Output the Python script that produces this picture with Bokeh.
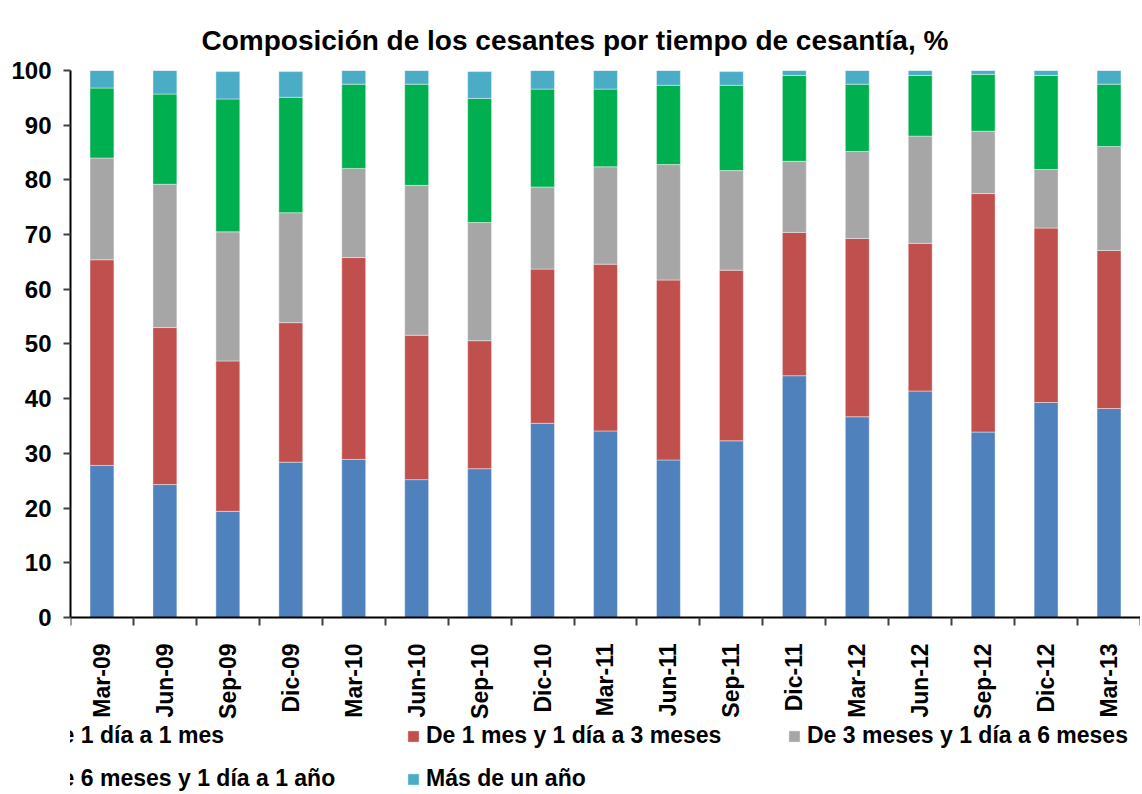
import math
from bokeh.plotting import figure
from bokeh.models import Legend, LegendItem, FixedTicker, Range1d, Title
from bokeh.embed import file_html
from bokeh.resources import INLINE

categories = ["Mar-09", "Jun-09", "Sep-09", "Dic-09", "Mar-10", "Jun-10", "Sep-10",
              "Dic-10", "Mar-11", "Jun-11", "Sep-11", "Dic-11", "Mar-12", "Jun-12",
              "Sep-12", "Dic-12", "Mar-13"]

s1 = [27.8, 24.3, 19.4, 28.4, 28.9, 25.2, 27.2, 35.5, 34.1, 28.8, 32.3, 44.2, 36.7, 41.4, 33.9, 39.3, 38.2]
s2 = [37.6, 28.7, 27.5, 25.5, 36.9, 26.4, 23.4, 28.2, 30.5, 32.9, 31.2, 26.2, 32.6, 27.0, 43.6, 31.9, 28.9]
s3 = [18.6, 26.2, 23.6, 20.1, 16.3, 27.4, 21.6, 15.0, 17.8, 21.1, 18.2, 13.0, 15.9, 19.6, 11.4, 10.7, 19.0]
s4 = [12.8, 16.5, 24.3, 21.1, 15.4, 18.5, 22.7, 17.9, 14.2, 14.5, 15.6, 15.7, 12.3, 11.1, 10.4, 17.2, 11.4]
s5 = [3.2, 4.3, 5.0, 4.7, 2.5, 2.5, 4.9, 3.4, 3.4, 2.7, 2.5, 0.9, 2.5, 0.9, 0.7, 0.9, 2.5]

series_names = ["De 1 día a 1 mes", "De 1 mes y 1 día a 3 meses", "De 3 meses y 1 día a 6 meses",
                "De 6 meses y 1 día a 1 año", "Más de un año"]
colors = ["#4F81BD", "#C0504D", "#A6A6A6", "#00B050", "#4BACC6"]
y_ticks = [0, 10, 20, 30, 40, 50, 60, 70, 80, 90, 100]
title_text = "Composición de los cesantes por tiempo de cesantía, %"

FONT = "Liberation Sans"
n = len(categories)
xs = [i + 0.5 for i in range(n)]
data = {"x": xs, "s1": s1, "s2": s2, "s3": s3, "s4": s4, "s5": s5}

# frame extends below zero to leave room for the rotated labels and the legend
p = figure(width=1140, height=792, output_backend="svg", toolbar_location=None,
           x_range=Range1d(0, n), y_range=Range1d(-32, 100),
           min_border_left=70, min_border_right=0, min_border_top=70, min_border_bottom=0)
p.title = Title(text=title_text, align="left", text_font=FONT, text_font_size="28px",
                text_font_style="bold", text_color="black", standoff=30, offset=131)

renderers = p.vbar_stack(["s1", "s2", "s3", "s4", "s5"], x="x", width=0.38, source=data,
                         color=colors, line_color="white", line_width=0.6, line_alpha=0.7)

p.xgrid.visible = False
p.ygrid.visible = False
p.outline_line_color = None

# y axis
p.yaxis.ticker = FixedTicker(ticks=y_ticks)
p.yaxis.bounds = (0, 100)
p.yaxis.axis_line_width = 2
p.yaxis.axis_line_color = "black"
p.yaxis.major_tick_in = 0
p.yaxis.major_tick_out = 7
p.yaxis.major_tick_line_color = "#404040"
p.yaxis.major_tick_line_width = 2
p.yaxis.minor_tick_line_color = None
p.yaxis.major_label_text_font = FONT
p.yaxis.major_label_text_font_size = "24px"
p.yaxis.major_label_text_font_style = "bold"
p.yaxis.major_label_text_color = "black"
p.yaxis.major_label_standoff = 12

# x axis drawn at y = 0: labels at centers, ticks at boundaries (minor)
p.xaxis.fixed_location = 0
p.xaxis.ticker = FixedTicker(ticks=xs, minor_ticks=list(range(n + 1)))
p.xaxis.major_label_overrides = {x: c for x, c in zip(xs, categories)}
p.xaxis.major_label_orientation = math.pi / 2
p.xaxis.axis_line_width = 2
p.xaxis.axis_line_color = "black"
p.xaxis.major_tick_in = 0
p.xaxis.major_tick_out = 0
p.xaxis.minor_tick_in = 0
p.xaxis.minor_tick_out = 8
p.xaxis.minor_tick_line_color = "#404040"
p.xaxis.minor_tick_line_width = 2
p.xaxis.major_label_text_font = FONT
p.xaxis.major_label_text_font_size = "23px"
p.xaxis.major_label_text_font_style = "bold"
p.xaxis.major_label_text_color = "black"
p.xaxis.major_label_standoff = 18

items = [LegendItem(label=name, renderers=[r]) for name, r in zip(series_names, renderers)]
legend = Legend(items=items, ncols=3, orientation="horizontal", location=(-45, 0),
                label_text_font=FONT, label_text_font_size="23px", label_text_font_style="bold",
                label_text_color="black", glyph_width=14, glyph_height=14,
                label_standoff=6, spacing=16, label_width=345, label_height=27,
                padding=0, margin=0, border_line_color=None, background_fill_alpha=0)
p.add_layout(legend, "center")

open("out.html", "w").write(file_html(p, INLINE))
